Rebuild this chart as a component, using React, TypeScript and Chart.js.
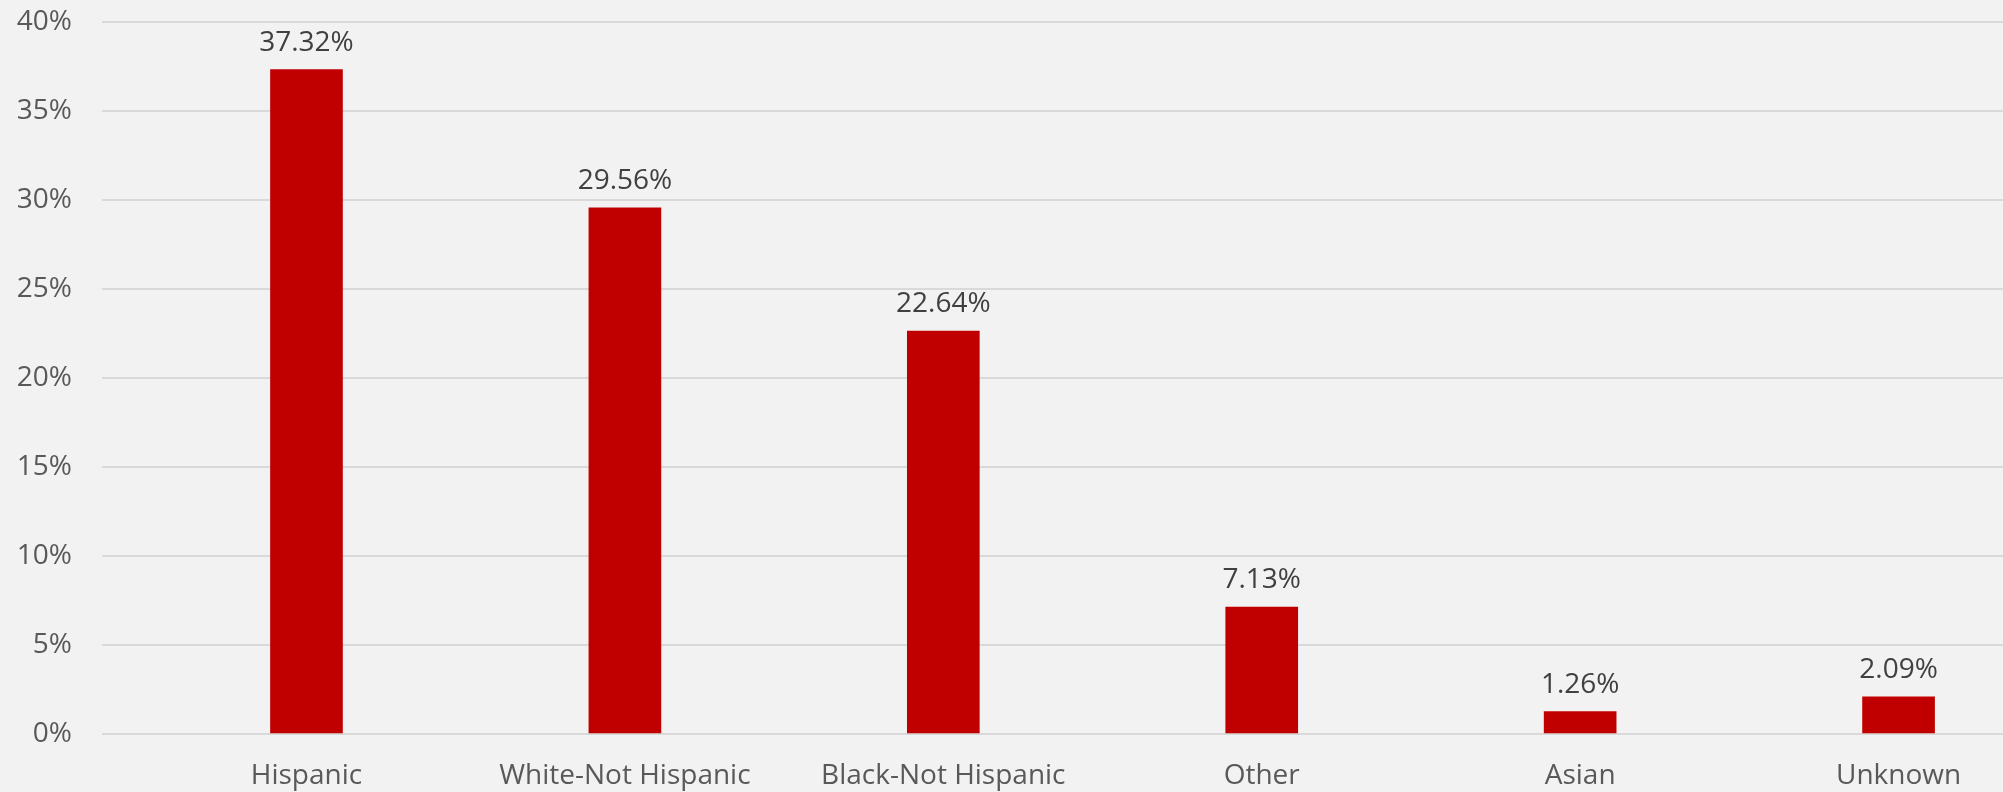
import React, { useEffect, useRef } from "react";
import { Chart, registerables } from "chart.js";

Chart.register(...registerables);

const categories: string[] = ["Hispanic", "White-Not Hispanic", "Black-Not Hispanic", "Other", "Asian", "Unknown"];
const shares: number[] = [37.32, 29.56, 22.64, 7.13, 1.26, 2.09];
const shareLabels: string[] = ["37.32%", "29.56%", "22.64%", "7.13%", "1.26%", "2.09%"];
const yTicks: number[] = [0, 5, 10, 15, 20, 25, 30, 35, 40];

const FONT = "'Open Sans', 'Noto Sans', sans-serif";

const bgPlugin = {
  id: "bgFill",
  beforeDraw(chart: any) {
    const { ctx, width, height } = chart;
    ctx.save();
    ctx.fillStyle = "#F2F2F2";
    ctx.fillRect(0, 0, width, height);
    ctx.restore();
  },
};

const labelPlugin = {
  id: "barLabels",
  afterDatasetsDraw(chart: any) {
    const { ctx } = chart;
    const meta = chart.getDatasetMeta(0);
    ctx.save();
    ctx.font = `28px ${FONT}`;
    ctx.fillStyle = "#404040";
    ctx.textAlign = "center";
    ctx.textBaseline = "alphabetic";
    meta.data.forEach((bar: any, i: number) => {
      ctx.fillText(shareLabels[i], bar.x, bar.y - 19);
    });
    ctx.restore();
  },
};

export default function App() {
  const ref = useRef<HTMLCanvasElement | null>(null);

  useEffect(() => {
    document.body.style.margin = "0";
    document.body.style.background = "#F2F2F2";
    const canvas = ref.current;
    if (!canvas) return;
    const chart = new Chart(canvas, {
      type: "bar",
      data: {
        datasets: [
          {
            data: shares.map((v, i) => ({ x: i, y: v })),
            backgroundColor: "#C00000",
            borderWidth: 0,
            barThickness: 72,
          },
        ],
      },
      plugins: [bgPlugin, labelPlugin],
      options: {
        responsive: false,
        animation: false,
        layout: { padding: 0 },
        plugins: { legend: { display: false }, tooltip: { enabled: false } },
        scales: {
          x: {
            type: "linear",
            offset: false,
            min: -0.6422,
            max: 5.328,
            grid: { display: false, drawTicks: false, offset: false },
            border: { display: false },
            afterBuildTicks: (scale: any) => {
              scale.ticks = categories.map((_, i) => ({ value: i }));
            },
            afterFit: (scale: any) => {
              scale.height = 58;
              scale.paddingLeft = 0;
              scale.paddingRight = 0;
            },
            ticks: {
              autoSkip: false,
              maxRotation: 0,
              padding: 25,
              color: "#595959",
              font: { family: FONT, size: 28 },
              callback: (v: any) => categories[Number(v)] ?? "",
            },
          },
          y: {
            min: 0,
            max: 40,
            afterBuildTicks: (scale: any) => {
              scale.ticks = yTicks.map((v) => ({ value: v }));
            },
            afterFit: (scale: any) => {
              scale.width = 102;
              scale.paddingTop = 22;
              scale.paddingBottom = 0;
            },
            grid: { color: "#D9D9D9", lineWidth: 2, drawTicks: false },
            border: { display: false },
            ticks: {
              padding: 30,
              color: "#595959",
              font: { family: FONT, size: 28 },
              callback: (v: any) => `${v}%`,
            },
          },
        },
      },
    } as any);
    return () => chart.destroy();
  }, []);

  return (
    <div style={{ width: 2003, height: 792 }}>
      <canvas ref={ref} width={2003} height={792} style={{ display: "block" }} />
    </div>
  );
}
